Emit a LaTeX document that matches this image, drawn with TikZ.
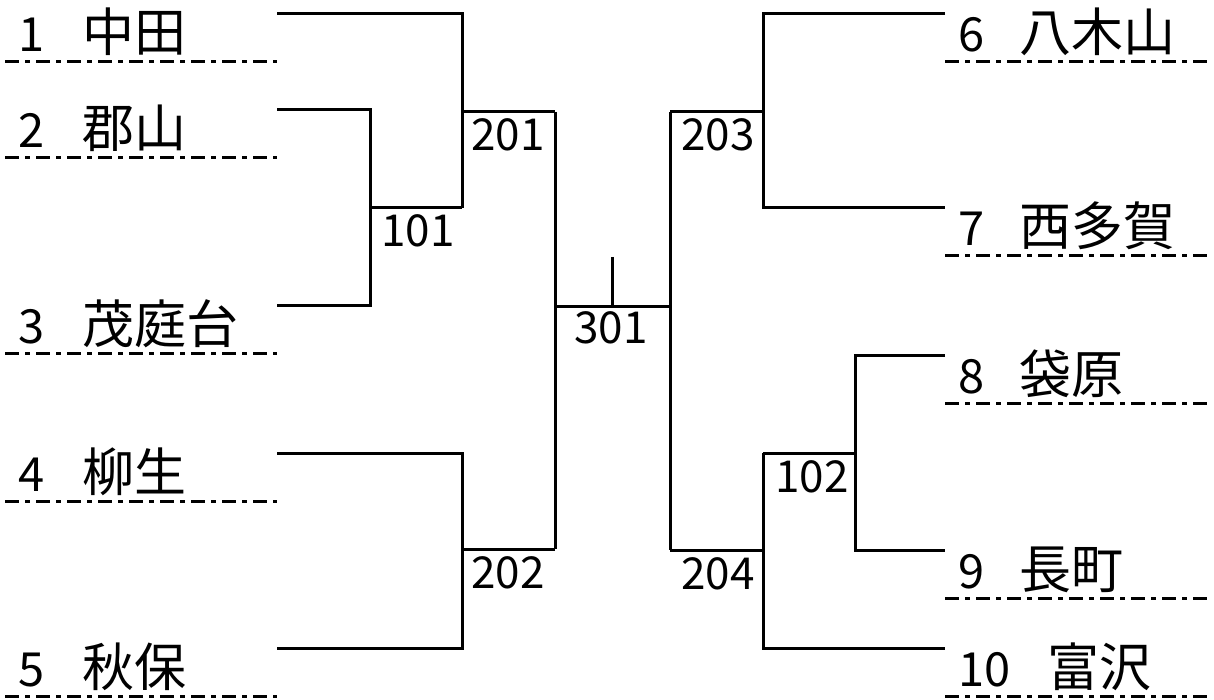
\documentclass[tikz,border=0pt]{standalone}
\usepackage{fontspec}
\setmainfont{Noto Sans CJK JP}
\begin{document}
\begin{tikzpicture}[x=1pt,y=-1pt,
  wire/.style={line width=3pt,line join=miter,line cap=butt},
  uline/.style={line width=3pt,dash pattern=on 14pt off 6pt on 5pt off 6pt},
  teamno/.style={anchor=base west,inner sep=0pt,font=\fontsize{47}{56}\selectfont},
  teamname/.style={anchor=base west,inner sep=0pt,font=\fontsize{52}{60}\selectfont},
  lbl/.style={anchor=base west,inner sep=0pt,font=\fontsize{44}{52}\selectfont}]
\useasboundingbox (0,0) rectangle (1214,700);
% left team end points
\foreach \n/\y in {1/14,2/110,3/305,4/453,5/648}{
  \coordinate (L\n) at (277,\y);
  \coordinate (LU\n a) at (5,\y+48);
  \coordinate (LU\n b) at (277,\y+48);
}
% right team end points
\foreach \n/\y in {6/14,7/208,8/355,9/550,10/648}{
  \coordinate (R\n) at (945,\y);
  \coordinate (RU\n a) at (945,\y+48);
  \coordinate (RU\n b) at (1212,\y+48);
}
% underlines
\foreach \n in {1,...,5}{ \draw[uline] (LU\n a) -- (LU\n b); }
\foreach \n in {6,...,10}{ \draw[uline] (RU\n a) -- (RU\n b); }
% team texts
\node[teamno] (n1) at (18,52) {1};  \node[teamname] (c1) at (82,52) {中田};
\node[teamno] (n2) at (18,148) {2}; \node[teamname] (c2) at (82,148) {郡山};
\node[teamno] (n3) at (18,343) {3}; \node[teamname] (c3) at (82,343) {茂庭台};
\node[teamno] (n4) at (18,491) {4}; \node[teamname] (c4) at (82,491) {柳生};
\node[teamno] (n5) at (18,686) {5}; \node[teamname] (c5) at (82,686) {秋保};
\node[teamno] (n6) at (958,52) {6};  \node[teamname] (c6) at (1019,52) {八木山};
\node[teamno] (n7) at (958,246) {7}; \node[teamname] (c7) at (1019,246) {西多賀};
\node[teamno] (n8) at (958,393) {8}; \node[teamname] (c8) at (1019,393) {袋原};
\node[teamno] (n9) at (958,588) {9}; \node[teamname] (c9) at (1019,588) {長町};
\node[teamno] (n10) at (958,686) {10}; \node[teamname] (c10) at (1047,686) {富沢};
% bracket corner coordinates
\coordinate (a101) at (370,110); \coordinate (b101) at (370,305); \coordinate (o101) at (370,208);
\coordinate (a201) at (462,14);  \coordinate (b201) at (462,208); \coordinate (o201) at (462,112);
\coordinate (a202) at (462,453); \coordinate (b202) at (462,648); \coordinate (o202) at (462,549);
\coordinate (e201) at (555,112); \coordinate (e202) at (555,549); \coordinate (c301) at (555,306);
\coordinate (d301) at (670,306); \coordinate (tk) at (612,257); \coordinate (tkb) at (612,306);
\coordinate (e203) at (670,112); \coordinate (e204) at (670,550);
\coordinate (a203) at (763,14);  \coordinate (b203) at (763,208); \coordinate (o203) at (763,112);
\coordinate (a204) at (763,453); \coordinate (b204) at (763,648); \coordinate (o204) at (763,550);
\coordinate (a102) at (855,355); \coordinate (b102) at (855,550); \coordinate (o102) at (855,453);
% left brackets
\draw[wire] (L2) -- (a101) -- (b101) -- (L3);
\draw[wire] (o101) -- (b201);
\draw[wire] (L1) -- (a201) -- (b201);
\draw[wire] (o201) -- (e201);
\draw[wire] (L4) -- (a202) -- (b202) -- (L5);
\draw[wire] (o202) -- (e202);
\draw[wire] (e201) -- (e202);
% centre
\draw[wire] (c301) -- (d301);
\draw[wire] (tk) -- (tkb);
\draw[wire] (e203) -- (e204);
% right brackets
\draw[wire] (e203) -- (o203);
\draw[wire] (R6) -- (a203) -- (b203) -- (R7);
\draw[wire] (e204) -- (o204);
\draw[wire] (a204) -- (b204) -- (R10);
\draw[wire] (a204) -- (o102);
\draw[wire] (R8) -- (a102) -- (b102) -- (R9);
% match labels
\node[lbl] (l101) at (381,247) {101};
\node[lbl] (l201) at (471,151) {201};
\node[lbl] (l202) at (471,588) {202};
\node[lbl,anchor=base] (l301) at (611,343) {301};
\node[lbl] (l203) at (681,151) {203};
\node[lbl] (l204) at (681,589) {204};
\node[lbl] (l102) at (775,492) {102};
\end{tikzpicture}
\end{document}
